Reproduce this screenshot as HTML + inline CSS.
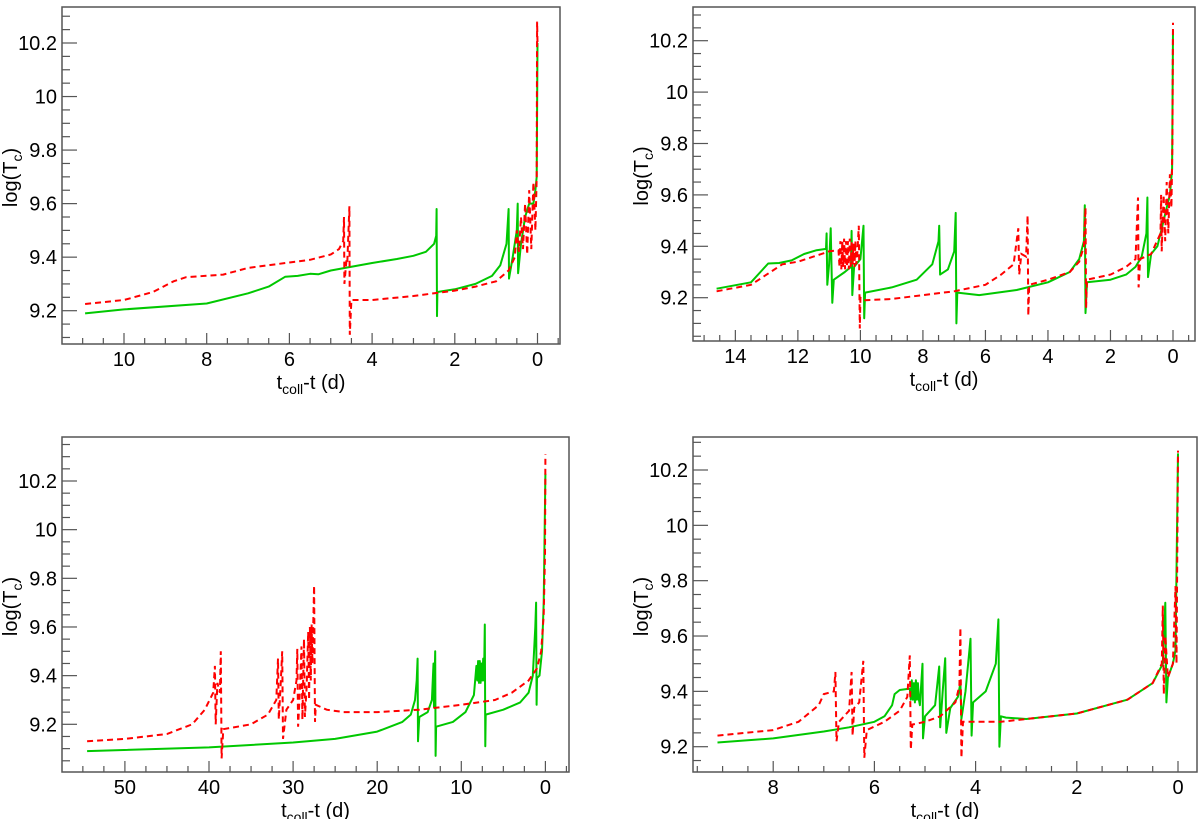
<!DOCTYPE html>
<html><head><meta charset="utf-8">
<style>
html,body{margin:0;padding:0;background:#fff;}
svg{display:block;font-family:"Liberation Sans",Arial,sans-serif;}
</style></head>
<body>
<svg id="fig" width="1200" height="819" viewBox="0 0 1200 819" xmlns="http://www.w3.org/2000/svg"></svg>
<script>
// ---- data: top-left panel ----
const tlGreenT=[10.94,10,8,7,6.5,6.1,5.8,5.5,5.3,5,4,3.4,3,2.7,2.5,2.45,2.44,2.43,2.42,2,1.5,1.1,0.9,0.75,0.7,0.69,0.6,0.5,0.48,0.47,0.4,0.3,0.2,0.1,0.05,0.02,0];
const tlGreenV=[9.19,9.205,9.227,9.265,9.29,9.327,9.33,9.338,9.336,9.35,9.378,9.393,9.405,9.42,9.45,9.48,9.58,9.18,9.27,9.28,9.3,9.33,9.37,9.45,9.58,9.32,9.4,9.5,9.6,9.34,9.45,9.55,9.6,9.6,9.65,9.7,10.2];
const tlRedT=[10.94,10,9.3,8.8,8.5,7.6,7,6,5.5,5,4.8,4.7,4.68,4.67,4.62,4.6,4.55,4.54,4.5,4,3,2,1.5,1,0.7,0.55,0.5,0.45,0.4,0.35,0.3,0.25,0.2,0.15,0.1,0.05,0.02,0.01,0];
const tlRedV=[9.225,9.24,9.27,9.31,9.325,9.335,9.36,9.38,9.39,9.41,9.43,9.46,9.55,9.3,9.39,9.38,9.59,9.11,9.24,9.24,9.255,9.275,9.29,9.31,9.35,9.4,9.5,9.42,9.55,9.43,9.6,9.41,9.65,9.43,9.68,9.5,9.7,10.28,10.2];
// ---- data: top-right panel ----
const trGreenT=[14.6,13.5,12.95,12.6,12.2,11.8,11.4,11.1,11.08,11.06,11,10.95,10.9,10.85,10.5,10.3,10.28,10.26,10.2,10,9.9,9.88,9.85,9,8.2,7.7,7.5,7.48,7.45,7.2,7,6.95,6.93,6.9,6.2,5,4,3.3,3,2.85,2.82,2.8,2.75,2,1.5,1.2,1,0.85,0.82,0.8,0.7,0.5,0.3,0.2,0.1,0.03,0];
const trGreenV=[9.235,9.26,9.333,9.335,9.345,9.37,9.385,9.39,9.45,9.25,9.33,9.47,9.18,9.27,9.3,9.32,9.46,9.21,9.32,9.35,9.48,9.12,9.22,9.24,9.27,9.33,9.42,9.48,9.29,9.31,9.38,9.53,9.1,9.22,9.21,9.23,9.26,9.3,9.35,9.42,9.56,9.14,9.26,9.27,9.29,9.32,9.36,9.45,9.59,9.28,9.37,9.4,9.5,9.55,9.6,9.7,10.24];
const trRedT=[14.6,13.5,13,12.5,12,11.5,11,10.7,10.67,10.64,10.61,10.58,10.55,10.52,10.49,10.46,10.43,10.4,10.37,10.34,10.31,10.28,10.25,10.22,10.19,10.16,10.13,10.1,10.05,10.02,10,9.9,9,8,7,6,5.5,5.1,4.95,4.92,4.85,4.7,4.65,4.63,4.6,4,3.3,3,2.85,2.8,2.78,2.75,2,1.5,1.2,1.12,1.1,1.05,0.7,0.4,0.38,0.36,0.3,0.25,0.2,0.15,0.1,0.05,0.02,0];
const trRedV=[9.225,9.25,9.29,9.33,9.34,9.36,9.38,9.385,9.32,9.42,9.31,9.42,9.32,9.43,9.31,9.42,9.32,9.42,9.31,9.43,9.32,9.42,9.33,9.41,9.32,9.42,9.33,9.37,9.48,9.08,9.2,9.19,9.195,9.21,9.225,9.25,9.29,9.33,9.47,9.29,9.37,9.36,9.52,9.13,9.25,9.27,9.3,9.34,9.4,9.55,9.16,9.27,9.29,9.32,9.35,9.59,9.24,9.35,9.37,9.45,9.6,9.38,9.6,9.42,9.65,9.45,9.68,9.55,9.8,10.27];
// ---- data: bottom-left panel ----
const blGreenT=[54.5,40,30,25,20,17,16,15.5,15.3,15.2,15.15,15,14,13.5,13.3,13.25,13.1,13.05,13,11,9.5,8.5,8.2,8.1,8,7.9,7.8,7.7,7.6,7.5,7.4,7.3,7.2,7.15,7.1,5,3,2,1.5,1.2,1.1,1.05,1,0.7,0.4,0.2,0];
const blGreenV=[9.09,9.105,9.125,9.14,9.17,9.21,9.24,9.3,9.38,9.47,9.13,9.23,9.25,9.3,9.45,9.27,9.5,9.07,9.19,9.21,9.25,9.32,9.44,9.38,9.46,9.37,9.46,9.37,9.45,9.38,9.47,9.38,9.61,9.11,9.24,9.26,9.29,9.33,9.4,9.6,9.7,9.28,9.39,9.4,9.5,9.7,10.23];
const blRedT=[54.5,50,45,42,40.5,39.5,39.3,39.2,39,38.7,38.6,38.5,38.3,35,33,32,31.8,31.7,31.5,31.3,31.2,30.8,30,29.6,29.5,29.4,29.2,29,28.9,28.7,28.6,28.4,28.2,28.1,28,27.9,27.8,27.7,27.5,27.4,27.3,26,24,20,15,10,6,4,2,1,0.5,0.2,0.05,0];
const blRedV=[9.13,9.14,9.16,9.2,9.26,9.33,9.44,9.2,9.37,9.33,9.5,9.06,9.18,9.2,9.24,9.3,9.47,9.22,9.35,9.5,9.14,9.26,9.3,9.38,9.51,9.19,9.33,9.52,9.22,9.55,9.23,9.35,9.58,9.3,9.6,9.38,9.61,9.45,9.77,9.21,9.28,9.26,9.25,9.25,9.26,9.28,9.3,9.33,9.38,9.43,9.5,9.65,9.9,10.31];
// ---- data: bottom-right panel ----
const brGreenT=[9.1,8,7,6.5,6,5.8,5.65,5.6,5.5,5.3,5.28,5.26,5.24,5.22,5.2,5.18,5.16,5.14,5.12,5.1,5.05,5.04,5,4.8,4.72,4.7,4.65,4.6,4.58,4.5,4.35,4.3,4.28,4.2,4.1,4.08,4.05,3.8,3.6,3.55,3.53,3.5,3.4,3,2,1,0.5,0.3,0.28,0.25,0.23,0.2,0.1,0.05,0];
const brGreenV=[9.215,9.23,9.255,9.27,9.29,9.31,9.35,9.39,9.405,9.41,9.37,9.44,9.37,9.43,9.36,9.44,9.37,9.43,9.37,9.35,9.5,9.23,9.31,9.35,9.49,9.27,9.4,9.52,9.25,9.34,9.38,9.43,9.3,9.4,9.59,9.24,9.36,9.4,9.5,9.66,9.2,9.31,9.305,9.3,9.32,9.37,9.43,9.5,9.6,9.72,9.36,9.45,9.5,9.55,10.26];
const brRedT=[9.1,8,7.5,7.1,7,6.8,6.77,6.75,6.7,6.5,6.45,6.43,6.4,6.3,6.22,6.2,6.15,5.8,5.5,5.35,5.3,5.28,5.25,5,4.7,4.4,4.32,4.3,4.28,4.25,3.5,3,2,1,0.5,0.32,0.3,0.28,0.25,0.2,0.1,0.05,0.03,0];
const brRedV=[9.24,9.26,9.29,9.35,9.39,9.4,9.47,9.22,9.29,9.33,9.47,9.24,9.34,9.36,9.51,9.16,9.26,9.29,9.33,9.38,9.53,9.19,9.28,9.29,9.31,9.36,9.42,9.63,9.16,9.29,9.29,9.3,9.32,9.37,9.43,9.5,9.71,9.39,9.6,9.45,9.5,9.78,9.5,10.27];
// ---- tick labels ----
const yTickVals=[9.2,9.4,9.6,9.8,10,10.2];
const yTickLabels=["9.2","9.4","9.6","9.8","10","10.2"];
const xTicksSmall=[0,2,4,6,8,10];
const xTicksTR=[0,2,4,6,8,10,12,14];
const xTicksBL=[0,10,20,30,40,50];
const xTicksBR=[0,2,4,6,8];

const NS="http://www.w3.org/2000/svg";
const svg=document.getElementById('fig');
function mk(tag,attrs,parent){const e=document.createElementNS(NS,tag);for(const k in attrs)e.setAttribute(k,attrs[k]);(parent||svg).appendChild(e);return e;}

const panels=[
 {id:'top-left',box:[62,7,560,344],x0:537.5,xs:41.35,y0:310.7,ys:267.7,xt:xTicksSmall,xminor:0.5,g:[tlGreenT,tlGreenV],r:[tlRedT,tlRedV]},
 {id:'top-right',box:[693,7,1195,341],x0:1173,xs:31.26,y0:297.7,ys:257,xt:xTicksTR,xminor:0.5,g:[trGreenT,trGreenV],r:[trRedT,trRedV]},
 {id:'bottom-left',box:[62,437,569,772],x0:545.4,xs:8.41,y0:724.3,ys:243.3,xt:xTicksBL,xminor:2.5,g:[blGreenT,blGreenV],r:[blRedT,blRedV]},
 {id:'bottom-right',box:[693,437,1197,772],x0:1178,xs:50.6,y0:746.7,ys:276.7,xt:xTicksBR,xminor:0.5,g:[brGreenT,brGreenV],r:[brRedT,brRedV]}
];

panels.forEach(p=>{
 const [L,T,R,B]=p.box;
 const X=v=>p.x0-v*p.xs;
 const Y=v=>p.y0-(v-9.2)*p.ys;
 const g=mk('g',{});
 
 
 const fr=mk('rect',{x:L,y:T,width:R-L,height:B-T,fill:'none',stroke:'#555','stroke-width':1.5},g);
 
 
 const yMin=9.2-(B-p.y0)/p.ys, yMax=9.2+(p.y0-T)/p.ys;
 for(let v=Math.ceil(yMin/0.05)*0.05; v<=yMax; v+=0.05){
  const yy=Y(v); const major=Math.abs(v/0.2-Math.round(v/0.2))<1e-6;
  const tk=mk('line',{x1:L,x2:L+(major?15:8),y1:yy,y2:yy,stroke:'#555','stroke-width':1.2},g);
  
  
 }
 yTickVals.forEach((v,i)=>{
  const t=mk('text',{x:L-5,y:Y(v)+7,'text-anchor':'end','font-size':20,fill:'#000'},g);
  t.textContent=yTickLabels[i];
  
  
 });
 const xMax=(p.x0-L)/p.xs, xMin=(p.x0-R)/p.xs;
 for(let v=Math.ceil(xMin/p.xminor)*p.xminor; v<=xMax; v+=p.xminor){
  const xx=X(v); const major=p.xt.some(t=>Math.abs(t-v)<1e-6);
  const tk=mk('line',{x1:xx,x2:xx,y1:B,y2:B-(major?11:6),stroke:'#555','stroke-width':1.2},g);
  
  
 }
 p.xt.forEach(v=>{
  const t=mk('text',{x:X(v),y:B+22,'text-anchor':'middle','font-size':20,fill:'#000'},g);
  t.textContent=String(v);
  
  
 });
 const xt=mk('text',{x:(L+R)/2,y:B+45,'text-anchor':'middle','font-size':20,fill:'#000'},g);
 xt.innerHTML='t<tspan font-size="14" dy="5">coll</tspan><tspan dy="-5">-t (d)</tspan>';
 
 
 const cy=(T+B)/2+2;
 const yt=mk('text',{x:0,y:0,'text-anchor':'middle','font-size':20,fill:'#000',transform:`translate(${L-45},${cy}) rotate(-90)`},g);
 yt.innerHTML='log(T<tspan font-size="14" dy="5">c</tspan><tspan dy="-5">)</tspan>';
 
 
 const clipId='clip-'+p.id;
 const cp=mk('clipPath',{id:clipId},g); mk('rect',{x:L,y:T,width:R-L,height:B-T},cp);
 const path=(ts,vs)=>ts.map((t,i)=>(i?'L':'M')+X(t).toFixed(1)+','+Y(vs[i]).toFixed(1)).join(' ');
 const gl=mk('path',{d:path(p.g[0],p.g[1]),fill:'none',stroke:'#00c800','stroke-width':2,'stroke-linejoin':'round','clip-path':`url(#${clipId})`},g);
 
 
 const rl=mk('path',{d:path(p.r[0],p.r[1]),fill:'none',stroke:'#ff0000','stroke-width':2,'stroke-dasharray':'6,4','clip-path':`url(#${clipId})`},g);
 
 
});
</script>
</body></html>
